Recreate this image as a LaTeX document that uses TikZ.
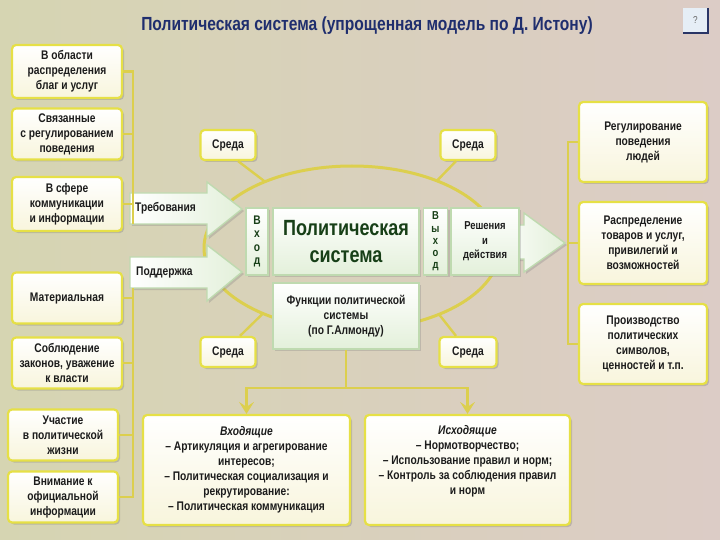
\documentclass[tikz,border=0pt]{standalone}
\usepackage{fontspec}
\setmainfont{Liberation Sans}[FakeStretch=0.82]
\usetikzlibrary{shadows,arrows.meta}
\definecolor{bgL}{HTML}{D6D5B2}
\definecolor{bgM}{HTML}{CACBD0}
\definecolor{bgR}{HTML}{DCCCC6}
\definecolor{byel}{HTML}{E6E046}
\definecolor{lyel}{HTML}{DCCF4E}
\definecolor{cream}{HTML}{F8F5DC}
\definecolor{bgrn}{HTML}{BFDAB0}
\definecolor{pgrn}{HTML}{E3F0DA}
\definecolor{dgrn}{HTML}{173F17}
\definecolor{ttl}{HTML}{1F2E6E}
\definecolor{txt}{HTML}{1C1C1C}
\definecolor{qbg}{HTML}{E6EEF6}
\definecolor{qnavy}{HTML}{2A3566}
\newcommand\bxf{\bfseries\fontsize{12.5}{15}\selectfont}
\newcommand\ttlf{\bfseries\fontsize{19}{22}\selectfont}
\begin{document}
\begin{tikzpicture}[x=1pt,y=-1pt,
  ybox/.style={draw=byel, line width=2.2pt, rounded corners=4pt, top color=white, bottom color=cream,
    drop shadow={shadow xshift=2pt,shadow yshift=-2pt,opacity=0.35}, align=center, inner sep=1pt, text=txt, font=\bxf},
  gbox/.style={draw=bgrn, line width=1.6pt, top color=white, bottom color=pgrn,
    drop shadow={shadow xshift=2pt,shadow yshift=-2pt,opacity=0.3}, align=center, inner sep=1pt, text=dgrn, font=\bxf},
  conn/.style={draw=lyel, line width=2.4pt},
  ell/.style={draw=lyel, line width=3pt},
  garrow/.style={draw=bgrn, line width=1.4pt, left color=white, right color=pgrn,
    drop shadow={shadow xshift=2pt,shadow yshift=-2pt,opacity=0.3}},
  lbl/.style={font=\bxf, text=txt, inner sep=0pt}
]
\useasboundingbox (0,0) rectangle (720,540);
\shade[left color=bgL, middle color=bgM, right color=bgR] (0,0) rectangle (720,540);

% title and help button
\node[text=ttl, font=\ttlf] (title) at (367,26) {Политическая система (упрощенная модель по Д. Истону)};
\node[fill=qbg, minimum width=25pt, minimum height=25pt, inner sep=0pt, text=black!60, font=\fontsize{10}{11}\selectfont] (q) at (695.5,20.5) {?};
\draw[qnavy, line width=1.5pt] (q.north east) -- (q.south east) -- (q.south west);

% ellipse
\coordinate (ec) at (352,248);
\draw[ell] (ec) ellipse [x radius=148pt, y radius=82pt];
\path (ec) ++(126:148pt and 82pt) coordinate (e1);
\path (ec) ++(55:148pt and 82pt) coordinate (e2);
\path (ec) ++(-127:148pt and 82pt) coordinate (e3);
\path (ec) ++(-54:148pt and 82pt) coordinate (e4);

% left boxes
\node[ybox, minimum width=110pt, minimum height=53pt] (l1) at (67,71.5) {В области\\распределения\\благ и услуг};
\node[ybox, minimum width=110pt, minimum height=51pt] (l2) at (67,134) {Связанные\\с регулированием\\поведения};
\node[ybox, minimum width=110pt, minimum height=54pt] (l3) at (67,204) {В сфере\\коммуникации\\и информации};
\node[ybox, minimum width=110pt, minimum height=51pt] (l4) at (67,298) {Материальная};
\node[ybox, minimum width=110pt, minimum height=51pt] (l5) at (67,363) {Соблюдение\\законов, уважение\\к власти};
\node[ybox, minimum width=110pt, minimum height=51pt] (l6) at (63,435) {Участие\\в политической\\жизни};
\node[ybox, minimum width=110pt, minimum height=51pt] (l7) at (63,497) {Внимание к\\официальной\\информации};

% right boxes
\node[ybox, minimum width=128pt, minimum height=80pt] (r1) at (643,142) {Регулирование\\поведения\\людей};
\node[ybox, minimum width=128pt, minimum height=82pt] (r2) at (643,243) {Распределение\\товаров и услуг,\\привилегий и\\возможностей};
\node[ybox, minimum width=128pt, minimum height=80pt] (r3) at (643,344) {Производство\\политических\\символов,\\ценностей и т.п.};

% environment boxes
\node[ybox, minimum width=55pt, minimum height=30pt] (s1) at (228,145) {Среда};
\node[ybox, minimum width=55pt, minimum height=30pt] (s2) at (468,145) {Среда};
\node[ybox, minimum width=55pt, minimum height=30pt] (s3) at (228,352) {Среда};
\node[ybox, minimum width=57pt, minimum height=30pt] (s4) at (468,352) {Среда};
\draw[conn] ([xshift=10pt]s1.south) -- (e1);
\draw[conn] ([xshift=-12pt]s2.south) -- (e2);
\draw[conn] ([xshift=12pt]s3.north) -- (e3);
\draw[conn] ([xshift=-12pt]s4.north) -- (e4);

% input arrows
\path[garrow] (130,193) -- (207,193) -- (207,182) -- (242,209) -- (207,237) -- (207,224) -- (130,224) -- cycle;
\path[garrow] (130,257) -- (207,257) -- (207,245) -- (242,272) -- (207,301) -- (207,288) -- (130,288) -- cycle;
\node[lbl, anchor=west] (treb) at (135,208) {Требования};
\node[lbl, anchor=west] (podd) at (136,272) {Поддержка};

% left connectors
\coordinate (vl) at (133,0);
\draw[conn] (l1.east) -- (l1.east -| vl) -- (vl |- 0,224);
\draw[conn] (l2.east) -- (l2.east -| vl);
\draw[conn] (l3.east) -- (l3.east -| vl);
\draw[conn] (vl |- 0,288) -- (l7.east -| vl) -- (l7.east);
\draw[conn] (l4.east) -- (l4.east -| vl);
\draw[conn] (l5.east) -- (l5.east -| vl);
\draw[conn] (l6.east) -- (l6.east -| vl);

% output arrow and right connectors
\coordinate (vr) at (568,0);
\draw[conn] (r1.west) -- (r1.west -| vr) -- (r3.west -| vr) -- (r3.west);
\draw[conn] (r2.west) -- (r2.west -| vr);
\path[garrow] (490,225) -- (524,225) -- (524,213) -- (565,243) -- (524,272) -- (524,259) -- (490,259) -- cycle;

% central boxes
\node[gbox, minimum width=22pt, minimum height=67pt, font=\bfseries\fontsize{12.5}{13.5}\selectfont] (vx) at (257,241.5) {В\\х\\о\\д};
\node[gbox, minimum width=146pt, minimum height=67pt, font=\bfseries\fontsize{22}{27}\selectfont] (ps) at (346,241.5) {Политическая\\система};
\node[gbox, minimum width=24pt, minimum height=67pt, font=\bfseries\fontsize{11.5}{12.3}\selectfont] (vy) at (435.5,241.5) {В\\ы\\х\\о\\д};
\node[gbox, minimum width=68pt, minimum height=67pt, text=txt, font=\bfseries\fontsize{11.5}{14.5}\selectfont] (rd) at (485,241.5) {Решения\\и\\действия};
\node[gbox, minimum width=146pt, minimum height=66pt, text=txt] (fn) at (346,316) {Функции политической\\системы\\(по Г.Алмонду)};

% bottom boxes
\node[ybox, minimum width=207pt, minimum height=110pt] (b1) at (246.5,470) {\textit{Входящие}\\– Артикуляция и агрегирование\\интересов;\\– Политическая социализация и\\рекрутирование:\\– Политическая коммуникация};
\node[ybox, minimum width=205pt, minimum height=110pt] (b2) at (467.5,470) {\textit{Исходящие}\\– Нормотворчество;\\– Использование правил и норм;\\– Контроль за соблюдения правил\\и норм\\\strut};

% bottom connectors
\coordinate (hb) at (346,388);
\draw[conn] (fn.south) -- (hb);
\draw[conn, -{Stealth[length=12pt,width=15pt,inset=5pt]}] (hb) -| (b1.north);
\draw[conn, -{Stealth[length=12pt,width=15pt,inset=5pt]}] (hb) -| (b2.north);
\end{tikzpicture}
\end{document}
